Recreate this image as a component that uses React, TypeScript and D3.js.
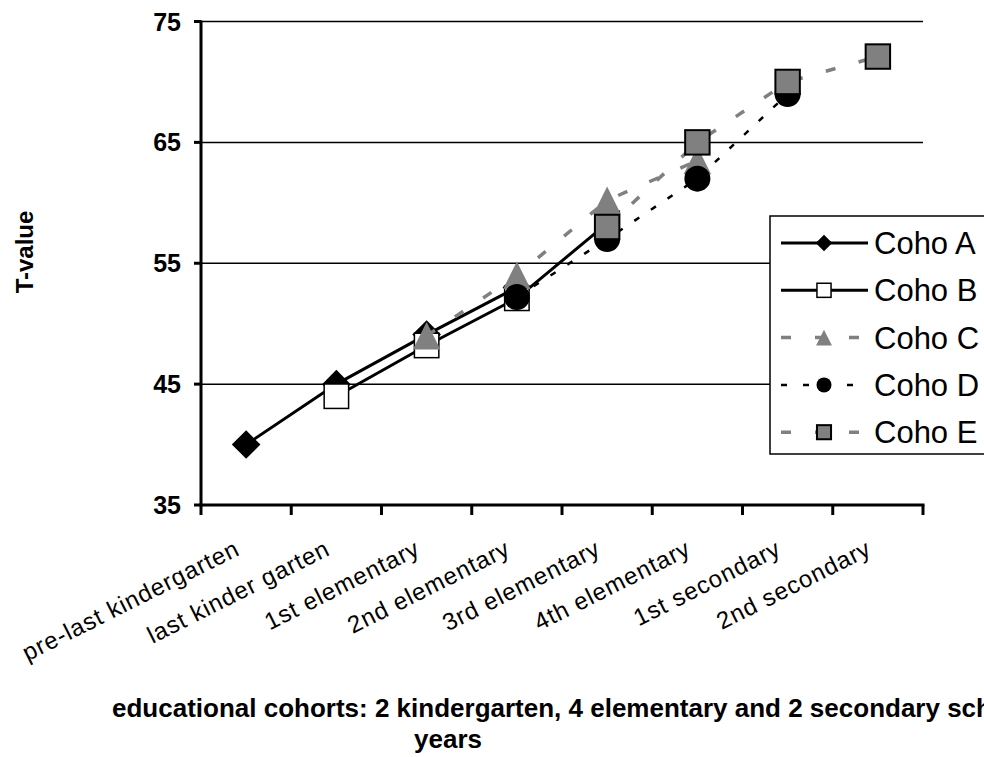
import React from "react";
import * as d3 from "d3";

const categories = [
  "pre-last kindergarten",
  "last kinder garten",
  "1st elementary",
  "2nd elementary",
  "3rd elementary",
  "4th elementary",
  "1st secondary",
  "2nd secondary",
];
const cohoA = [40, 45, 49.1, 53, null, null, null, null];
const cohoB = [null, 44, 48.2, 52.1, 58.3, null, null, null];
const cohoC = [null, null, 49, 54, 60.2, 63.5, null, null];
const cohoD = [null, null, null, 52.2, 57, 62, 69, null];
const cohoE = [null, null, null, null, 58, 65, 70, 72.1];
const yTicks = [35, 45, 55, 65, 75];
const seriesNames = ["Coho A", "Coho B", "Coho C", "Coho D", "Coho E"];

const W = 984;
const H = 757;
const L = 201, R = 923, T = 21.5, B = 505;
const GRAY = "#808080";
const FONT = "'Liberation Sans', Arial, sans-serif";

type Style = { stroke: string; width: number; dash?: string; marker: string };
const styles: Style[] = [
  { stroke: "#000", width: 3, marker: "diamond" },
  { stroke: "#000", width: 3, marker: "square-open" },
  { stroke: GRAY, width: 3.5, dash: "10,24", marker: "triangle" },
  { stroke: "#000", width: 2.5, dash: "6,14", marker: "circle" },
  { stroke: GRAY, width: 3.5, dash: "10,24", marker: "square-gray" },
];

function Marker({ kind, x, y, s }: { kind: string; x: number; y: number; s: number }) {
  if (kind === "diamond") {
    const h = s * 0.55;
    return <path d={`M${x},${y - h}L${x + h},${y}L${x},${y + h}L${x - h},${y}Z`} fill="#000" />;
  }
  if (kind === "square-open") {
    const h = s * 0.47;
    return <rect x={x - h} y={y - h} width={2 * h} height={2 * h} fill="#fff" stroke="#000" strokeWidth={1.5} />;
  }
  if (kind === "square-gray") {
    const h = s * 0.47;
    return <rect x={x - h} y={y - h} width={2 * h} height={2 * h} fill={GRAY} stroke="#000" strokeWidth={2} />;
  }
  if (kind === "triangle") {
    const h = s * 0.53;
    return <path d={`M${x},${y - h}L${x + h},${y + h}L${x - h},${y + h}Z`} fill={GRAY} />;
  }
  return <circle cx={x} cy={y} r={s * 0.5} fill="#000" />;
}

export default function App() {
  const x = d3.scaleBand<string>().domain(categories).range([L, R]).padding(0);
  const y = d3.scaleLinear().domain([35, 75]).range([B, T]);
  const cx = (c: string) => (x(c) as number) + x.bandwidth() / 2;
  const all = [cohoA, cohoB, cohoC, cohoD, cohoE];

  const line = d3
    .line<number | null>()
    .defined((d) => d !== null)
    .x((_, i) => cx(categories[i]))
    .y((d) => y(d as number));

  const boundaries = categories.map((c) => x(c) as number).concat([R]);

  const legendTop = 216;
  const legendStep = 47.3;

  return (
    <svg width={W} height={H} style={{ position: "absolute", left: 0, top: 0, background: "#fff" }}>
      <rect x={0} y={0} width={W} height={H} fill="#fff" />
      {yTicks.slice(1).map((t) => (
        <line key={t} x1={L} x2={R} y1={y(t)} y2={y(t)} stroke="#000" strokeWidth={1.5} />
      ))}
      <line x1={L} x2={L} y1={T - 1} y2={B + 1.5} stroke="#000" strokeWidth={3} />
      {yTicks.map((t) => (
        <g key={t}>
          <line x1={L - 7} x2={L} y1={y(t)} y2={y(t)} stroke="#000" strokeWidth={3} />
          <text x={181} y={y(t)} dy="0.36em" textAnchor="end" fontFamily={FONT} fontWeight="bold" fontSize={25} fill="#000">
            {t}
          </text>
        </g>
      ))}
      <line x1={L - 1.5} x2={R + 1.5} y1={B} y2={B} stroke="#000" strokeWidth={3} />
      {boundaries.map((b, i) => (
        <line key={i} x1={b} x2={b} y1={B} y2={B + 10} stroke="#000" strokeWidth={3} />
      ))}
      {categories.map((c) => (
        <text
          key={c}
          transform={`translate(${cx(c) - 5},${554}) rotate(-26.7)`}
          textAnchor="end"
          fontFamily={FONT}
          fontSize={24}
          letterSpacing={0.9}
          fill="#000"
        >
          {c}
        </text>
      ))}
      {all.map((s, si) => (
        <g key={si}>
          <path
            d={line(s) as string}
            fill="none"
            stroke={styles[si].stroke}
            strokeWidth={styles[si].width}
            strokeDasharray={styles[si].dash}
          />
          {s.map((v, i) =>
            v === null ? null : <Marker key={i} kind={styles[si].marker} x={cx(categories[i])} y={y(v)} s={26} />
          )}
        </g>
      ))}
      <text transform="translate(33,252) rotate(-90)" textAnchor="middle" fontFamily={FONT} fontWeight="bold" fontSize={24} fill="#000">
        T-value
      </text>
      <text x={112} y={717} fontFamily={FONT} fontWeight="bold" fontSize={26} fill="#000">
        educational cohorts: 2 kindergarten, 4 elementary and 2 secondary school
      </text>
      <text x={448} y={748} textAnchor="middle" fontFamily={FONT} fontWeight="bold" fontSize={26} fill="#000">
        years
      </text>
      <rect x={770} y={legendTop} width={240} height={238} fill="#fff" stroke="#000" strokeWidth={1.5} />
      {seriesNames.map((n, i) => {
        const ly = legendTop + 27 + i * legendStep;
        const st = styles[i];
        return (
          <g key={n}>
            <line
              x1={781}
              x2={868}
              y1={ly}
              y2={ly}
              stroke={st.stroke}
              strokeWidth={st.width}
              strokeDasharray={st.dash ? (i === 3 ? "6,16" : "10,24") : undefined}
            />
            <Marker kind={st.marker} x={824} y={ly} s={15} />
            <text x={874} y={ly} dy="0.36em" fontFamily={FONT} fontSize={31} fill="#000">
              {n}
            </text>
          </g>
        );
      })}
    </svg>
  );
}
